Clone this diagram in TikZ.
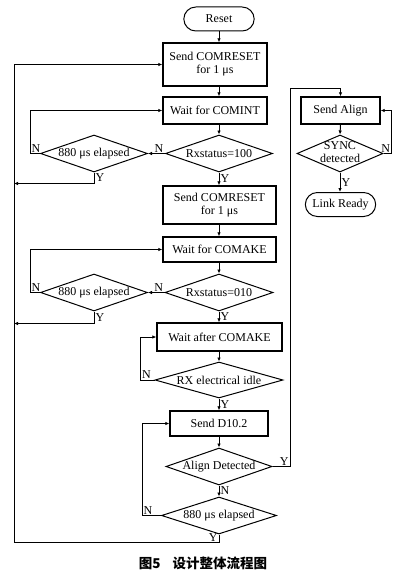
\documentclass[tikz,border=0pt]{standalone}
\usepackage{fontspec}
\setmainfont{Liberation Serif}
\newfontfamily\cjk{Noto Sans CJK SC}
\usetikzlibrary{shapes.geometric,shapes.misc,arrows.meta}

\begin{document}
\begin{tikzpicture}[x=1pt,y=-1pt,
    font=\fontsize{12}{13}\selectfont,
    box/.style={draw, line width=1.4pt, inner xsep=0.5pt, inner ysep=2pt, align=center},
    term/.style={draw, line width=1pt, rounded rectangle, minimum width=77pt, minimum height=24pt},
    dia/.style={draw, line width=1pt, diamond, inner sep=0pt, minimum width=107pt, minimum height=37pt},
    arr/.style={-{Latex[length=4pt,width=3.5pt]}, line width=1pt},
    lbl/.style={inner sep=1pt}]
				\useasboundingbox (0,0) rectangle (400,578);

				% main column
				\node[term] (reset) at (219,19) {Reset};
				\node[box, minimum width=104pt, minimum height=43pt] (sendA) at (215,64.5) {Send COMRESET\\for 1 μs};
				\node[box, minimum width=104pt, minimum height=27pt] (waitA) at (215,110.5) {Wait for COMINT};
				\node[dia] (rxA) at (219,153.5) {\makebox[0pt]{Rxstatus=100}};
				\node[dia] (elA) at (94,153.5) {\makebox[0pt]{880 μs elapsed}};
				\node[box, minimum width=113pt, minimum height=38pt] (sendB) at (219.5,205) {Send COMRESET\\for 1 μs};
				\node[box, minimum width=113pt, minimum height=25pt] (waitB) at (219.5,249.5) {Wait for COMAKE};
				\node[dia, minimum width=108pt] (rxB) at (219,292.5) {\makebox[0pt]{Rxstatus=010}};
				\node[dia] (elB) at (94,292.5) {\makebox[0pt]{880 μs elapsed}};
				\node[box, minimum width=125pt, minimum height=28pt] (waitC) at (219.5,337) {Wait after COMAKE};
				\node[dia, minimum width=128pt, minimum height=36pt] (idle) at (219,380) {\makebox[0pt]{RX electrical idle}};
				\node[box, minimum width=98pt, minimum height=25pt] (sendD) at (219,423.5) {Send D10.2};
				\node[dia, minimum width=106pt] (align) at (219,466.5) {\makebox[0pt]{Align Detected}};
				\node[dia, minimum width=115pt] (elC) at (219,515.5) {\makebox[0pt]{880 μs elapsed}};

				% right column
				\node[box, minimum width=79pt, minimum height=27pt] (sendAl) at (340.5,110.5) {Send Align};
				\node[dia, minimum width=86pt] (sync) at (340,153.5) {\makebox[0pt]{\begin{tabular}{@{}c@{}}SYNC\\detected\end{tabular}}};
				\node[term] (ready) at (340.5,204.5) {Link Ready};

				\coordinate (lft) at (14,0);
				\coordinate (rgt) at (290,88);

				\foreach \a/\b in {reset/sendA, sendA/waitA, waitA/rxA, sendB/waitB, waitB/rxB, waitC/idle, sendD/align}
					\draw[arr] (reset |- \a.south) -- (reset |- \b.north);
				\draw[arr] (rxA.south) -- node[lbl, right]{Y} (rxA.south |- sendB.north);
				\draw[arr] (rxB.south) -- node[lbl, right]{Y} (rxB.south |- waitC.north);
				\draw[arr] (idle.south) -- node[lbl, right]{Y} (idle.south |- sendD.north);
				\draw[arr] (align.south) -- node[lbl, right]{N} (elC.north);
				\draw[arr] (sendAl.south) -- (sync.north);
				\draw[arr] (sync.south) -- node[lbl, right]{Y} (sync.south |- ready.north);

				% N branches and loops
				\draw[arr] (rxA.west) -- node[lbl, above, pos=.35]{N} (elA.east);
				\draw[arr] (rxB.west) -- node[lbl, above, pos=.35]{N} (elB.east);
				\draw[arr] (elA.west) -- ++(-10,0) node[lbl, above right]{N} |- (waitA.west);
				\draw[arr] (elB.west) -- ++(-10,0) node[lbl, above right]{N} |- (waitB.west);
				\draw[arr] (idle.west) -- ++(-14,0) node[lbl, above right]{N} |- (waitC.west);
				\draw[arr] (elC.west) -- ++(-19,0) node[lbl, above right]{N} |- (sendD.west);
				\draw[arr] (sync.east) -- ++(8,0) node[lbl, above left]{N} |- (sendAl.east);

				% time-outs back to COMRESET
				\draw[arr] (elA.south) -- ++(0,11) node[lbl, right, pos=.5]{Y} -- ([yshift=-11pt]elA.south -| lft);
				\draw[arr] (elB.south) -- ++(0,12) node[lbl, right, pos=.5]{Y} -- ([yshift=-12pt]elB.south -| lft);
				\draw[arr] (elC.south) -- ++(0,8) node[lbl, left, pos=.4]{Y} -| (lft |- sendA.west) -- (sendA.west);

				% aligned: go to Send Align
				\draw[arr] (align.east) -- (align.east -| rgt) node[lbl, above left]{Y} -- (rgt) -| (sendAl.north);

				\node (cap) at (203,563) {\fontsize{13.5}{14}\selectfont\cjk\bfseries 图5\hspace{12pt}设计整体流程图};
			\end{tikzpicture}
\end{document}
